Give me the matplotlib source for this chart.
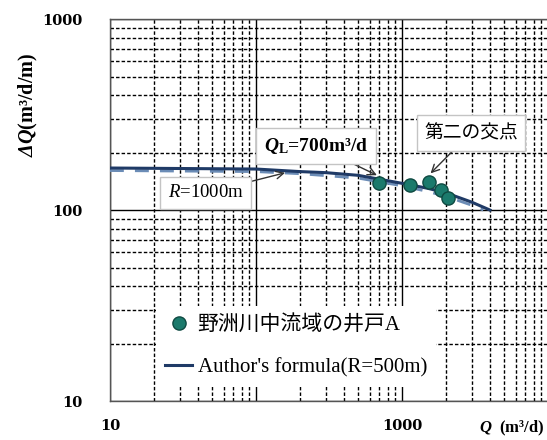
import matplotlib
matplotlib.use("Agg")
import matplotlib.pyplot as plt
import numpy as np

# ── data ──────────────────────────────────────────────────────────────────────
well_q = [690, 1140, 1530, 1850, 2060]          # Q (m3/d)
well_dq = [138, 135, 140, 127, 116]              # dQ (m3/d/m)

formula_q = [10, 100, 200, 300, 500, 1000, 1500, 2000, 3000, 4000]
formula_dq = [166, 164, 159, 157, 152, 138, 130, 123, 110, 100]   # R=500m

r1000_q = [10, 100, 200, 500, 1000, 1500, 2000, 3000, 3600]
r1000_dq = [161, 159, 155, 147, 134, 125, 118, 106, 100]         # R=1000m

x_ticks = [10, 100, 1000, 10000]
x_tick_labels = ["10", "", "1000", ""]
y_ticks = [10, 100, 1000]
y_tick_labels = ["10", "100", "1000"]

# ── fonts ─────────────────────────────────────────────────────────────────────
plt.rcParams["mathtext.fontset"] = "custom"
plt.rcParams["mathtext.rm"] = "Liberation Serif"
plt.rcParams["mathtext.it"] = "Liberation Serif:italic"
plt.rcParams["mathtext.bf"] = "Liberation Serif:bold"
plt.rcParams["mathtext.bfit"] = "Liberation Serif:bold:italic"
serif = "Liberation Serif"
cjk = ["Liberation Serif", "Noto Sans CJK JP"]

# ── plot ──────────────────────────────────────────────────────────────────────
fig = plt.figure(figsize=(5.47, 4.40), dpi=100)
ax = fig.add_axes([0.201, 0.0886, 0.801, 0.868])
ax.set_xscale("log")
ax.set_yscale("log")
ax.set_xlim(10, 10000)
ax.set_ylim(10, 1000)

ax.grid(True, which="major", color="black", lw=1.0, ls="-")
ax.grid(True, which="minor", color="black", lw=1.0, ls=(0, (2.5, 1.5)))
ax.tick_params(which="both", length=0)
for sp in ax.spines.values():
    sp.set_color("#555555")
    sp.set_linewidth(1.0)

ax.set_xticks(x_ticks)
ax.set_xticklabels(x_tick_labels, family="DejaVu Serif", fontweight="bold",
                   fontsize=10.5)
ax.set_yticks(y_ticks)
ax.set_yticklabels(y_tick_labels, family="DejaVu Serif", fontweight="bold",
                   fontsize=10.5)
ax.tick_params(axis="x", pad=13)
ax.tick_params(axis="y", pad=20)

ax.plot(r1000_q, r1000_dq, color="#6b8cb6", lw=2.0, ls=(0, (5, 4)), zorder=3)
ax.plot(formula_q, formula_dq, color="#1f3a66", lw=2.2, zorder=3,
        label="Author's formula(R=500m)")
ax.plot(well_q, well_dq, ls="none", marker="o", ms=9.5, mfc="#1b7a6c",
        mec="#0f4a42", mew=1.0, zorder=4, label="野洲川中流域の井戸A")

h, l = ax.get_legend_handles_labels()
leg = ax.legend(h[::-1], l[::-1], loc="lower left",
                bbox_to_anchor=(0.105, 0.037), borderaxespad=0,
                prop={"family": cjk, "size": 15}, frameon=True,
                facecolor="white", edgecolor="none", framealpha=1,
                fancybox=False, borderpad=0.45, labelspacing=1.1,
                handlelength=1.3, handletextpad=0.25)

box = dict(boxstyle="square,pad=0.4", fc="white", ec="#c4c4c4", lw=1.0)
arrow = dict(arrowstyle="->", color="#333333", lw=1.0, shrinkA=0, shrinkB=2)

ax.annotate(r"$\mathbfit{Q}_{\mathbf{L}}$=700m³/d", xy=(700, 150),
            xycoords="data", xytext=(0.47, 0.668), textcoords="axes fraction",
            ha="center", va="center", family=serif, fontweight="bold",
            fontsize=14, bbox=box, arrowprops=arrow, zorder=5)
ax.annotate("第二の交点", xy=(1520, 152), xycoords="data",
            xytext=(0.824, 0.703), textcoords="axes fraction",
            ha="center", va="center", family=["Noto Sans CJK JP"],
            fontsize=13.5, bbox=box, arrowprops=arrow, zorder=5)
ax.annotate(r"$\mathit{R}$=1000m", xy=(165, 158), xycoords="data",
            xytext=(0.219, 0.545), textcoords="axes fraction",
            ha="center", va="center", family=serif, fontsize=13.5,
            bbox=box, arrowprops=arrow, zorder=5)

ax.text(-0.187, 0.775, r"$\mathbfit{\Delta Q}$(m³/d/m)", transform=ax.transAxes,
        rotation=90, ha="center", va="center", family=serif,
        fontweight="bold", fontsize=14.5)
fig.text(512 / 547, 1 - 428 / 440, r"$\mathbfit{Q}$  (m³/d)", ha="center",
         va="center", family=serif, fontweight="bold", fontsize=12)

fig.savefig("out.png", dpi=100)
